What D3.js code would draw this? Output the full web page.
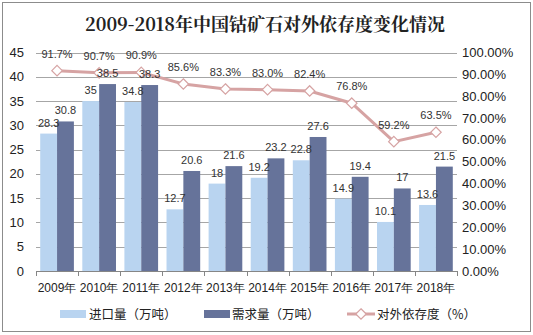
<!DOCTYPE html>
<html><head><meta charset="utf-8">
<script src="https://cdn.jsdelivr.net/npm/d3@7"></script>
<style>body{margin:0;background:#fff}svg{display:block}text{font-family:"Liberation Sans",Arial,sans-serif}</style>
</head><body><svg id="c" width="533" height="335"></svg>
<script>
const years = ["2009年","2010年","2011年","2012年","2013年","2014年","2015年","2016年","2017年","2018年"];
const importVals = [28.3, 35, 34.8, 12.7, 18, 19.2, 22.8, 14.9, 10.1, 13.6];
const demandVals = [30.8, 38.5, 38.3, 20.6, 21.6, 23.2, 27.6, 19.4, 17, 21.5];
const depVals = [91.7, 90.7, 90.9, 85.6, 83.3, 83.0, 82.4, 76.8, 59.2, 63.5];
const leftTicks = [0,5,10,15,20,25,30,35,40,45];
const rightTicks = [0,10,20,30,40,50,60,70,80,90,100];
const seriesNames = ["进口量（万吨）","需求量（万吨）","对外依存度（%）"];
const title = "2009-2018年中国钴矿石对外依存度变化情况";

const C1 = "#B9D4F0", C2 = "#66739A", CL = "#D6A3A3";
const svg = d3.select("#c");
svg.append("rect").attr("x",2.5).attr("y",2.5).attr("width",528).attr("height",329).attr("fill","#fff").attr("stroke","#8c8c8c");

const L=36, R=457, T=52.5, B=271;
const x = d3.scaleBand().domain(years).range([L,R]).paddingInner(0).paddingOuter(0);
const y = d3.scaleLinear().domain([0,45]).range([B,T]);
const y2 = d3.scaleLinear().domain([0,100]).range([B,T]);
const bw = x.bandwidth();
const inner = d3.scaleBand().domain([0,1]).range([0,bw]).paddingInner(0).paddingOuter(0.25);

svg.append("text").attr("x",265).attr("y",31).attr("text-anchor","middle")
  .style("font-family","'Noto Serif CJK SC','Noto Sans CJK SC',serif").style("font-weight","bold").style("font-size","18px").attr("fill","#222").text(title);

// grid
svg.append("g").selectAll("line").data(leftTicks.filter(d=>d>0)).join("line")
  .attr("x1",L).attr("x2",R).attr("y1",d=>Math.round(y(d))+0.5).attr("y2",d=>Math.round(y(d))+0.5).attr("stroke","#a6a6a6");

// left axis labels
svg.append("g").selectAll("text").data(leftTicks).join("text")
  .attr("x",24).attr("y",d=>y(d)+4.5).attr("text-anchor","end").style("font-size","13px").attr("fill","#222").text(d=>d);
// right axis labels
svg.append("g").selectAll("text").data(rightTicks).join("text")
  .attr("x",462).attr("y",d=>y2(d)+4.5).attr("text-anchor","start").style("font-size","13px").attr("fill","#222").text(d=>d.toFixed(2)+"%");

// bars
const g = svg.append("g");
g.selectAll("rect.a").data(importVals).join("rect").attr("class","a")
  .attr("x",(d,i)=>x(years[i])+inner(0)).attr("width",inner.bandwidth()).attr("y",d=>y(d)).attr("height",d=>B-y(d)).attr("fill",C1);
g.selectAll("rect.b").data(demandVals).join("rect").attr("class","b")
  .attr("x",(d,i)=>x(years[i])+inner(1)).attr("width",inner.bandwidth()).attr("y",d=>y(d)).attr("height",d=>B-y(d)).attr("fill",C2);

// x axis
svg.append("line").attr("x1",L).attr("x2",R).attr("y1",B+0.5).attr("y2",B+0.5).attr("stroke","#868686");
svg.append("g").selectAll("line").data(d3.range(years.length+1)).join("line")
  .attr("x1",i=>Math.round(L+i*bw)+0.5).attr("x2",i=>Math.round(L+i*bw)+0.5).attr("y1",B).attr("y2",B+5).attr("stroke","#868686");
svg.append("g").selectAll("text").data(years).join("text")
  .attr("x",d=>x(d)+bw/2).attr("y",292).attr("text-anchor","middle").style("font-size","12px").attr("fill","#222").text(d=>d);

// line
const line = d3.line().x((d,i)=>x(years[i])+bw/2).y(d=>y2(d));
svg.append("path").datum(depVals).attr("d",line).attr("fill","none").attr("stroke",CL).attr("stroke-width",3);
const diamond = d3.symbol().type(d3.symbolDiamond2).size(70);
svg.append("g").selectAll("path").data(depVals).join("path")
  .attr("transform",(d,i)=>`translate(${x(years[i])+bw/2},${y2(d)})`).attr("d",diamond)
  .attr("fill","#fff").attr("stroke",CL).attr("stroke-width",1.2);

// labels (on top)
const lb = svg.append("g");
lb.selectAll("text.a").data(importVals).join("text").attr("class","a")
  .attr("x",(d,i)=>x(years[i])+inner(0)+inner.bandwidth()/2).attr("y",d=>y(d)-7).attr("text-anchor","middle")
  .style("font-size","11px").attr("fill","#333").text(d=>String(d));
lb.selectAll("text.b").data(demandVals).join("text").attr("class","b")
  .attr("x",(d,i)=>x(years[i])+inner(1)+inner.bandwidth()/2).attr("y",d=>y(d)-7).attr("text-anchor","middle")
  .style("font-size","11px").attr("fill","#333").text(d=>String(d));
lb.selectAll("text.c").data(depVals).join("text").attr("class","c")
  .attr("x",(d,i)=>x(years[i])+bw/2).attr("y",d=>y2(d)-13).attr("text-anchor","middle")
  .style("font-size","11px").attr("fill","#333").text(d=>d.toFixed(1)+"%");

// legend
const lg = svg.append("g");
lg.append("rect").attr("x",60).attr("y",310).attr("width",26).attr("height",8).attr("fill",C1);
lg.append("text").attr("x",89).attr("y",318.5).style("font-size","12.5px").attr("fill","#222").style("font-family","'Noto Sans CJK SC',sans-serif").text(seriesNames[0]);
lg.append("rect").attr("x",204).attr("y",310).attr("width",26).attr("height",8).attr("fill",C2);
lg.append("text").attr("x",232).attr("y",318.5).style("font-size","12.5px").attr("fill","#222").style("font-family","'Noto Sans CJK SC',sans-serif").text(seriesNames[1]);
lg.append("line").attr("x1",347).attr("x2",375).attr("y1",314).attr("y2",314).attr("stroke",CL).attr("stroke-width",3);
lg.append("path").attr("transform","translate(361,314)").attr("d",diamond).attr("fill","#fff").attr("stroke",CL).attr("stroke-width",1.2);
lg.append("text").attr("x",377).attr("y",318.5).style("font-size","12.5px").attr("fill","#222").style("font-family","'Noto Sans CJK SC',sans-serif").text(seriesNames[2]);
</script></body></html>
